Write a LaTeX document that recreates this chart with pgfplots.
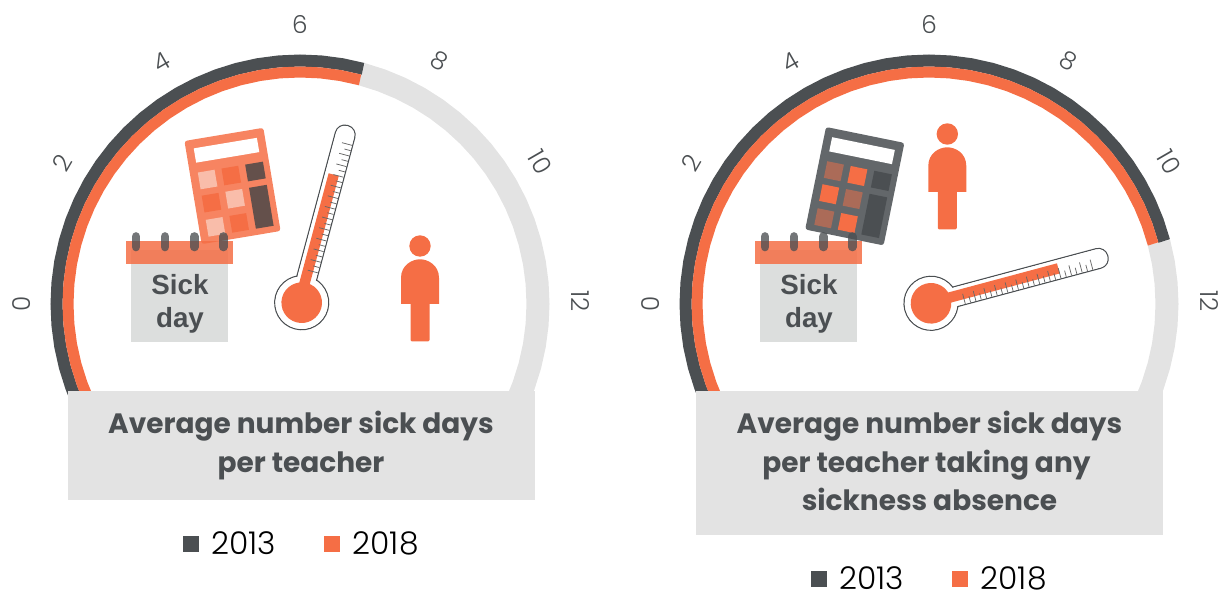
\documentclass[border=0pt]{standalone}
\usepackage{pgfplots}
\pgfplotsset{compat=1.18}
\usepackage{fontspec}
\setmainfont{Poppins}
\newfontfamily\lightf{Poppins Light}
\newfontfamily\boldf{Poppins}
\newfontfamily\arialb{Liberation Sans Bold}
\definecolor{dk}{HTML}{4B4F52}
\definecolor{org}{HTML}{F56E45}
\definecolor{gr}{HTML}{E3E3E3}
\definecolor{pagec}{HTML}{DCDEDD}
\definecolor{lk1}{HTML}{F9BDAA}
\definecolor{dk1}{HTML}{64504B}
\definecolor{br2}{HTML}{AB6B58}
\definecolor{body2}{HTML}{63676A}
\pgfplotsset{gauge/.style={
  scale only axis, width=456.75pt, height=443.25pt, hide axis, clip=false,
  ymin=-287, ymax=304, anchor=north west,
  legend columns=2,
  legend image code/.code={\fill[##1,draw=none,line width=0pt] (0pt,-6pt) rectangle (12pt,6pt);},
  legend style={draw=none,fill=none,anchor=center,font=\lightf\fontsize{23.5}{25}\selectfont,
    /tikz/column 1/.style={column sep=7.5pt},/tikz/column 2/.style={column sep=34pt},/tikz/column 3/.style={column sep=7.5pt},
    inner sep=0pt,outer sep=0pt}
}}
\newcommand{\calcicon}[7]{% x,y,rot,body,light,orange,dark
  \begin{scope}[shift={(#1,#2)},rotate=#3]
    \fill[#4,rounded corners=2pt] (-40,-52.3) rectangle (40,52.3);
    \fill[white] (-32,-43.5) rectangle (32,-29);
    \fill[#5] (-32,-19) rectangle (-15,-2);
    \fill[#6] (-8,-19) rectangle (9,-2);
    \fill[#7] (16,-19) rectangle (34,-2);
    \fill[#6] (-32,4.5) rectangle (-15,21.5);
    \fill[#5] (-8,4.5) rectangle (9,21.5);
    \fill[#7] (16,4.5) rectangle (34,46);
    \fill[#5] (-32,29) rectangle (-15,46);
    \fill[#6] (-8,29) rectangle (9,46);
  \end{scope}}
\newcommand{\calicon}[1]{%
  \begin{scope}[shift={(#1,0)}]
    \fill[pagec] (131,250) rectangle (228,342);
    \fill[org,opacity=.85] (126,241) rectangle (233,264);
    \foreach \xx in {136,165,194.3,223.3}
      \draw[dk,opacity=.78,line width=6.5pt,line cap=round] (\xx,236.5) -- (\xx,247);
    \node[font=\arialb\fontsize{20.8}{22}\selectfont,text=dk,inner sep=0pt,anchor=base] at (180,295) {Sick};
    \node[font=\arialb\fontsize{20.8}{22}\selectfont,text=dk,inner sep=0pt,anchor=base] at (180,328) {day};
  \end{scope}}
\newcommand{\thermo}[4]{% x,y,rot,offset
  \begin{scope}[shift={(#1,#2)},rotate=#3]
    \draw[dk,line width=.9pt] (0,0) circle (27);
    \draw[dk,line width=.9pt,rounded corners=7.2pt] (15,-10+#4) -- (183,-10+#4) -- (183,10+#4) -- (15,10+#4) -- cycle;
    \fill[white] (0,0) circle (26.3);
    \fill[white,rounded corners=6.6pt] (14,-9.3+#4) -- (182.3,-9.3+#4) -- (182.3,9.3+#4) -- (14,9.3+#4) -- cycle;
    \fill[org] (0,-6+#4) rectangle (132,4.5+#4);
    \fill[org] (0,0) circle (20.3);
    \foreach \uu in {0,...,12}
      \draw[black!60,line width=.55pt] ({33+11*\uu},-1+#4) -- ({33+11*\uu},9.5+#4);
    \foreach \uu in {0,...,11}
      \draw[black!60,line width=.55pt] ({38.5+11*\uu},3+#4) -- ({38.5+11*\uu},9.5+#4);
  \end{scope}}
\newcommand{\person}[2]{%
  \begin{scope}[shift={(#1,#2)}]
    \fill[org] (0,0) circle (10.7);
    \fill[org,rounded corners=1pt] (-9.5,45) -- (-9.5,95.5) -- (9.5,95.5) -- (9.5,45) -- cycle;
    \fill[org] (-19,58) -- (-19,32) .. controls (-19,19) and (-8,13.3) .. (0,13.3) .. controls (8,13.3) and (19,19) .. (19,32) -- (19,58) -- cycle;
  \end{scope}}
\begin{document}
\begin{tikzpicture}
\path[use as bounding box] (0,0) rectangle (913.5pt,-443.25pt);
\begin{axis}[gauge, at={(0pt,0pt)}, xmin=-300, xmax=309,
  legend style={at={(0.4959,0.0795)}}]
\addplot[forget plot,color=gr,line width=17.25pt,no markers,data cs=polar] coordinates {
(75,238)(70,238)(65,238)(60,238)(55,238)(50,238)(45,238)(40,238)(35,238)(30,238)(25,238)(20,238)(15,238)(10,238)(5,238)(0,238)(-5,238)(-10,238)(-15,238)(-20,238)(-24,238)};
\addplot[color=dk,line width=9pt,no markers,data cs=polar] coordinates {
(204,243.5)(200,243.5)(195,243.5)(190,243.5)(185,243.5)(180,243.5)(175,243.5)(170,243.5)(165,243.5)(160,243.5)(155,243.5)(150,243.5)(145,243.5)(140,243.5)(135,243.5)(130,243.5)(125,243.5)(120,243.5)(115,243.5)(110,243.5)(105,243.5)(100,243.5)(95,243.5)(90,243.5)(85,243.5)(80,243.5)(75,243.5)};
\addplot[color=org,line width=8.25pt,no markers,data cs=polar] coordinates {
(204,232)(200,232)(195,232)(190,232)(185,232)(180,232)(175,232)(170,232)(165,232)(160,232)(155,232)(150,232)(145,232)(140,232)(135,232)(130,232)(125,232)(120,232)(115,232)(110,232)(105,232)(100,232)(95,232)(90,232)(85,232)(80,232)(75,232)};
\legend{2013,2018}
\end{axis}
\begin{axis}[gauge, at={(456.75pt,0pt)}, xmin=-320, xmax=289,
  legend style={at={(0.5271,0.0203)}}]
\addplot[forget plot,color=gr,line width=17.25pt,no markers,data cs=polar] coordinates {
(15,238)(10,238)(5,238)(0,238)(-5,238)(-10,238)(-15,238)(-20,238)(-24,238)};
\addplot[color=dk,line width=9pt,no markers,data cs=polar] coordinates {
(204,243.5)(200,243.5)(195,243.5)(190,243.5)(185,243.5)(180,243.5)(175,243.5)(170,243.5)(165,243.5)(160,243.5)(155,243.5)(150,243.5)(145,243.5)(140,243.5)(135,243.5)(130,243.5)(125,243.5)(120,243.5)(115,243.5)(110,243.5)(105,243.5)(100,243.5)(95,243.5)(90,243.5)(85,243.5)(80,243.5)(75,243.5)(70,243.5)(65,243.5)(60,243.5)(55,243.5)(50,243.5)(45,243.5)(40,243.5)(35,243.5)(30,243.5)(25,243.5)(20,243.5)(15,243.5)};
\addplot[color=org,line width=8.25pt,no markers,data cs=polar] coordinates {
(204,232)(200,232)(195,232)(190,232)(185,232)(180,232)(175,232)(170,232)(165,232)(160,232)(155,232)(150,232)(145,232)(140,232)(135,232)(130,232)(125,232)(120,232)(115,232)(110,232)(105,232)(100,232)(95,232)(90,232)(85,232)(80,232)(75,232)(70,232)(65,232)(60,232)(55,232)(50,232)(45,232)(40,232)(35,232)(30,232)(25,232)(20,232)(15,232)};
\legend{2013,2018}
\end{axis}
\begin{scope}[x=0.75pt,y=-0.75pt]
  % title boxes
  \fill[gr] (68,391) rectangle (535,500);
  \fill[gr] (696,391) rectangle (1163,535);
  \tikzset{ttl/.style={font=\boldf\bfseries\fontsize{21}{24}\selectfont,text=dk,inner sep=0pt,anchor=base},
           tk/.style={font=\lightf\fontsize{18.5}{20}\selectfont,text=dk,inner sep=0pt}}
  \node[ttl] at (301,434) {Average number sick days};
  \node[ttl] at (301,472.5) {per teacher};
  \node[ttl] at (929.5,434) {Average number sick days};
  \node[ttl] at (926.5,472.5) {per teacher taking any};
  \node[ttl] at (929.5,510.5) {sickness absence};
  % gauge numbers
  \foreach \cx in {300,929}{
    \node[tk,rotate=90] at (\cx-278,304) {0};
    \node[tk,rotate=60] at (\cx-238,163) {2};
    \node[tk,rotate=30] at (\cx-138,62) {4};
    \node[tk] at (\cx,25) {6};
    \node[tk,rotate=-30] at (\cx+140,61) {8};
    \node[tk,rotate=-60] at (\cx+240,162) {10};
    \node[tk,rotate=-90] at (\cx+280,301) {12};
  }
  \calcicon{232.5}{186}{9.5}{org!85!white}{lk1}{org}{dk1}
  \calcicon{854.8}{186.2}{-11.5}{body2}{br2}{org}{dk}
  \calicon{0}
  \calicon{629}
  \thermo{301.7}{302.7}{75}{-1.5}
  \thermo{931}{303.3}{15}{0}
  \person{420}{246}
  \person{947.3}{134}
\end{scope}
\end{tikzpicture}
\end{document}
